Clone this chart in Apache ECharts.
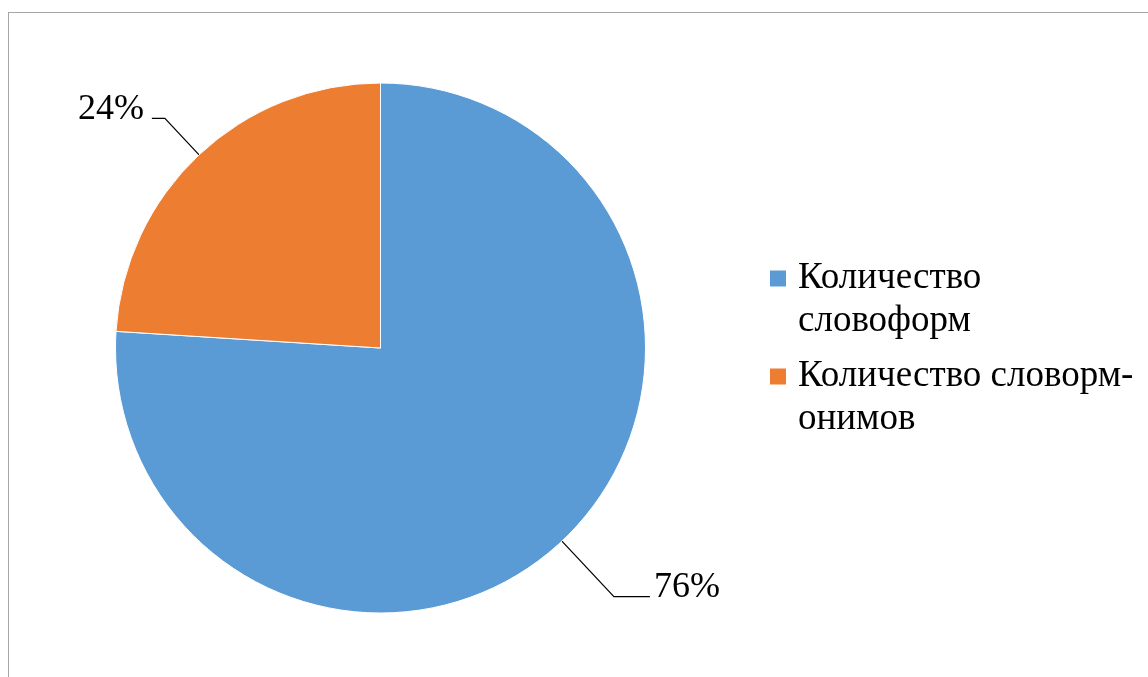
<!DOCTYPE html>
<html>
<head>
<meta charset="utf-8">
<script src="https://cdn.jsdelivr.net/npm/echarts@6/dist/echarts.min.js"></script>
<style>
  html, body { margin: 0; padding: 0; background: #fff; overflow: hidden; }
  #chart { position: absolute; left: 0; top: 0; width: 1148px; height: 677px; }
  #frame { position: absolute; left: 8px; top: 12px; width: 1160px; height: 700px;
           border: 1.5px solid #a6a6a6; pointer-events: none; }
</style>
</head>
<body>
<div id="chart"></div>
<div id="frame"></div>
<script>
// Slice names (legend text, with line breaks) and their shares
const categories = ['Количество\nсловоформ', 'Количество словорм-\nонимов'];
const values = [76, 24];
const colors = ['#5B9BD5', '#ED7D31'];

// Leader-line lengths and text gap for each slice label
const lineLengths = [[76, 36], [50, 13]];
const labelGaps = [4, 8];

const chart = echarts.init(document.getElementById('chart'));

const data = categories.map((name, i) => ({
  name: name,
  value: values[i],
  itemStyle: { color: colors[i] },
  label: { distanceToLabelLine: labelGaps[i] },
  labelLine: { length: lineLengths[i][0], length2: lineLengths[i][1] }
}));

// Legend text: a blank first line keeps the first text line level with the swatch
function legendText(name) {
  return [' '].concat(name.split('\n')).map(s => '{t|' + s + '}').join('\n');
}

chart.setOption({
  animation: false,
  textStyle: { fontFamily: 'Liberation Serif' },
  legend: {
    orient: 'vertical',
    left: 768,
    top: 214,
    padding: 0,
    itemWidth: 18,
    itemHeight: 18,
    itemGap: -31,
    icon: 'rect',
    data: categories,
    formatter: legendText,
    textStyle: {
      fontFamily: 'Liberation Serif',
      fontSize: 37,
      lineHeight: 43,
      color: '#000',
      rich: {
        t: {
          fontFamily: 'Liberation Serif',
          fontSize: 37,
          lineHeight: 43,
          color: '#000',
          padding: [0, 0, 0, 6]
        }
      }
    }
  },
  series: [{
    type: 'pie',
    center: [380.5, 348],
    radius: 265,
    startAngle: 90,
    clockwise: true,
    itemStyle: { borderColor: '#fff', borderWidth: 1 },
    label: {
      show: true,
      position: 'outside',
      // trailing empty line lifts the figure so the leader ends at its baseline
      formatter: '{d}%\n',
      fontFamily: 'Liberation Serif',
      fontSize: 36,
      lineHeight: 18,
      color: '#000'
    },
    labelLine: {
      show: true,
      lineStyle: { color: '#000', width: 1.2 }
    },
    data: data
  }]
});
</script>
</body>
</html>
